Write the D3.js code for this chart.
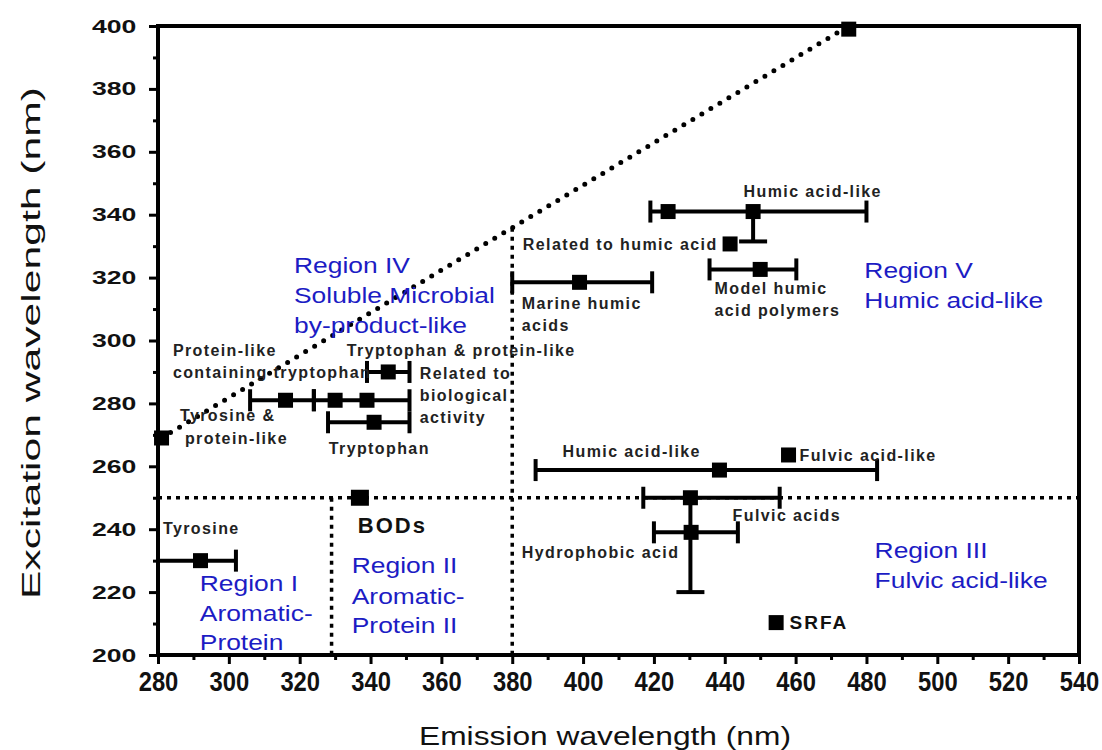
<!DOCTYPE html>
<html>
<head>
<meta charset="utf-8">
<script src="https://cdn.jsdelivr.net/npm/d3@7"></script>
<style>
  body { margin: 0; background: #fff; }
  text { font-family: "Liberation Sans", Arial, sans-serif; }
</style>
</head>
<body>
<script>
// Fluorescence peaks: emission / excitation wavelength (nm) and error ranges
var peakNames  = ["Tyrosine", "BODs", "Tryptophan & protein-like", "Protein-like containing tryptophan",
                  "Biological activity a", "Biological activity b", "Tryptophan", "Tyrosine & protein-like",
                  "Marine humic acids", "Humic acid-like a", "Humic acid-like b", "Related to humic acid",
                  "Model humic acid polymers", "Humic acid-like c", "Fulvic acid-like", "Fulvic acids",
                  "Hydrophobic acid", "SRFA", "Upper bound"];
var emission   = [292, 337, 345, 316, 330, 339, 341, 281, 399, 424, 448, 441.5, 450, 438.5, 458, 430.3, 430.5, 454.5, 475];
var excitation = [230, 250, 290, 281, 281, 281, 274, 269, 318.5, 341, 341, 330.7, 322.6, 258.8, 263.6, 250, 239, 210.3, 399];
var emLow      = [280, null, 339, 306, null, 324, 328, null, 380, null, 419, null, 435.7, 386.6, null, 417, 420, null, null];
var emHigh     = [302, null, 351, 324, null, 351, 351, null, 419.5, null, 480, null, 460.2, 483, null, 455.5, 443.7, null, null];
var exLow      = [null, null, null, null, null, null, null, null, null, null, 331.5, null, null, null, null, 220, null, null, null];

// Region boundaries
var diagEm = [281, 472], diagEx = [269, 398];
var splitEx = 250, splitEmA = 329, splitEmB = 380;

// Tick labels
var xTicks = [280, 300, 320, 340, 360, 380, 400, 420, 440, 460, 480, 500, 520, 540];
var yTicks = [200, 220, 240, 260, 280, 300, 320, 340, 360, 380, 400];

// Annotation text with anchor (emission, excitation)
var noteText = ["Humic acid-like", "Related to humic acid", "Model humic", "acid polymers", "Marine humic", "acids",
                "Tryptophan & protein-like", "Protein-like", "containing tryptophan", "Related to", "biological",
                "activity", "Tyrosine &", "protein-like", "Tryptophan", "Tyrosine", "Humic acid-like",
                "Fulvic acid-like", "Fulvic acids", "Hydrophobic acid"];
var noteEm = [445.3, 383, 437.1, 437.1, 382.7, 382.7, 333.3, 284.2, 284.2, 353.9, 353.9, 353.9, 286.2, 287.6, 328.2, 281.4, 394.2, 461.1, 442.2, 382.7];
var noteEx = [347.5, 330.7, 316.7, 309.7, 311.9, 304.9, 297, 297, 290, 289.7, 282.7, 275.7, 276.3, 269, 265.8, 240.4, 264.9, 263.6, 244.5, 232.8];

var regionText = ["Region IV", "Soluble Microbial", "by-product-like", "Region V", "Humic acid-like",
                  "Region III", "Fulvic acid-like", "Region I", "Aromatic-", "Protein",
                  "Region II", "Aromatic-", "Protein II"];
var regionEm = [318.4, 318.4, 318.4, 479.4, 479.4, 482.3, 482.3, 291.8, 291.8, 291.8, 334.7, 334.7, 334.7];
var regionEx = [324, 314.5, 304.9, 322.4, 312.9, 233.4, 223.8, 222.9, 213.4, 204.1, 228.6, 218.8, 209.5];

var margin = {top: 26, left: 158},
    width = 921,
    height = 629;

var svg = d3.select("body").append("svg")
    .attr("width", 1102)
    .attr("height", 750);

var g = svg.append("g")
    .attr("transform", "translate(" + margin.left + "," + margin.top + ")");

var x = d3.scaleLinear().domain([280, 540]).range([0, width]);
var y = d3.scaleLinear().domain([200, 400]).range([height, 0]);

// minor + major ticks
var minorX = d3.range(290, 540, 20), minorY = d3.range(210, 400, 20);

var xMinor = g.append("g").attr("transform", "translate(0," + height + ")")
    .call(d3.axisBottom(x).tickValues(minorX).tickSize(5).tickFormat(""));
var xMajor = g.append("g").attr("transform", "translate(0," + height + ")")
    .call(d3.axisBottom(x).tickValues(xTicks).tickSize(9).tickPadding(8).tickFormat(d3.format("d")));
var yMinor = g.append("g").call(d3.axisLeft(y).tickValues(minorY).tickSize(5).tickFormat(""));
var yMajor = g.append("g").call(d3.axisLeft(y).tickValues(yTicks).tickSize(9).tickPadding(9).tickFormat(d3.format("d")));

[xMinor, xMajor, yMinor, yMajor].forEach(function(a) {
    a.select(".domain").remove();
    a.selectAll("line").attr("stroke", "#000").attr("stroke-width", 3);
});

xMajor.selectAll(".tick text")
    .attr("fill", "#111")
    .style("font-size", "27px")
    .style("font-weight", "bold")
    .attr("transform", "scale(0.88,1)");

yMajor.selectAll(".tick text")
    .attr("fill", "#111")
    .style("font-size", "19px")
    .style("font-weight", "bold")
    .attr("transform", "translate(-9,0) scale(1.4,1) translate(9,0)");

// dotted region boundaries
var dotted = g.append("g")
    .attr("stroke", "#000")
    .attr("stroke-width", 3.5)
    .attr("stroke-dasharray", "4,5")
    .attr("fill", "none");

dotted.append("line")
    .attr("x1", x(280)).attr("x2", x(540))
    .attr("y1", y(splitEx)).attr("y2", y(splitEx));
dotted.append("line")
    .attr("x1", x(splitEmA)).attr("x2", x(splitEmA))
    .attr("y1", y(splitEx)).attr("y2", y(200));
var diagAt380 = diagEx[0] + (splitEmB - diagEm[0]) * (diagEx[1] - diagEx[0]) / (diagEm[1] - diagEm[0]);
dotted.append("line")
    .attr("x1", x(splitEmB)).attr("x2", x(splitEmB))
    .attr("y1", y(diagAt380)).attr("y2", y(200));

g.append("line")
    .attr("x1", x(diagEm[0])).attr("y1", y(diagEx[0]))
    .attr("x2", x(diagEm[1])).attr("y2", y(diagEx[1]))
    .attr("stroke", "#000")
    .attr("stroke-width", 5)
    .attr("stroke-linecap", "round")
    .attr("stroke-dasharray", "0,10.5");

// error bars
var peaks = peakNames.map(function(n, i) {
    return {name: n, em: emission[i], ex: excitation[i], lo: emLow[i], hi: emHigh[i], exLo: exLow[i]};
});

var bars = g.append("g").attr("stroke", "#000").attr("stroke-width", 4);
peaks.filter(function(d) { return d.lo !== null; }).forEach(function(d) {
    bars.append("line")
        .attr("x1", x(d.lo)).attr("x2", x(d.hi))
        .attr("y1", y(d.ex)).attr("y2", y(d.ex));
    [d.lo, d.hi].forEach(function(v) {
        bars.append("line")
            .attr("x1", x(v)).attr("x2", x(v))
            .attr("y1", y(d.ex) - 11).attr("y2", y(d.ex) + 11);
    });
});
peaks.filter(function(d) { return d.exLo !== null; }).forEach(function(d) {
    bars.append("line")
        .attr("x1", x(d.em)).attr("x2", x(d.em))
        .attr("y1", y(d.ex)).attr("y2", y(d.exLo));
    bars.append("line")
        .attr("x1", x(d.em) - 14).attr("x2", x(d.em) + 14)
        .attr("y1", y(d.exLo)).attr("y2", y(d.exLo));
});

// square markers
g.selectAll("rect.pt")
    .data(peaks)
    .enter()
    .append("rect")
    .attr("class", "pt")
    .attr("x", function(d) { return x(d.em) - (d.name === "BODs" ? 9 : 7.5); })
    .attr("y", function(d) { return y(d.ex) - (d.name === "BODs" ? 8 : 7.5); })
    .attr("width", function(d) { return d.name === "BODs" ? 18 : 15; })
    .attr("height", function(d) { return d.name === "BODs" ? 16 : 15; })
    .attr("fill", "#000");

// frame
g.append("rect")
    .attr("width", width)
    .attr("height", height)
    .attr("fill", "none")
    .attr("stroke", "#000")
    .attr("stroke-width", 4);

// annotations
g.selectAll("text.note")
    .data(noteText)
    .enter()
    .append("text")
    .attr("class", "note")
    .attr("x", function(d, i) { return x(noteEm[i]); })
    .attr("y", function(d, i) { return y(noteEx[i]); })
    .attr("dy", "0.36em")
    .attr("fill", "#222")
    .style("font-size", "16px")
    .style("font-weight", "bold")
    .style("letter-spacing", "1.4px")
    .text(function(d) { return d; });

g.append("text")
    .attr("x", x(336.4)).attr("y", y(241.3)).attr("dy", "0.36em")
    .attr("fill", "#111")
    .style("font-size", "22px").style("font-weight", "bold").style("letter-spacing", "2px")
    .text("BODs");
g.append("text")
    .attr("x", x(458.3)).attr("y", y(210.5)).attr("dy", "0.36em")
    .attr("fill", "#111")
    .style("font-size", "19px").style("font-weight", "bold").style("letter-spacing", "2px")
    .text("SRFA");

g.selectAll("text.region")
    .data(regionText)
    .enter()
    .append("text")
    .attr("class", "region")
    .attr("transform", function(d, i) {
        return "translate(" + x(regionEm[i]) + "," + y(regionEx[i]) + ") scale(1.2,1)";
    })
    .attr("dy", "0.36em")
    .attr("fill", "#1c1cc4")
    .style("font-size", "22px")
    .text(function(d) { return d; });

// axis titles
svg.append("text")
    .attr("x", 605).attr("y", 745)
    .attr("text-anchor", "middle")
    .attr("fill", "#111")
    .style("font-size", "26px")
    .attr("textLength", 372)
    .attr("lengthAdjust", "spacingAndGlyphs")
    .text("Emission wavelength (nm)");

svg.append("text")
    .attr("transform", "translate(40,343) rotate(-90)")
    .attr("text-anchor", "middle")
    .attr("fill", "#111")
    .style("font-size", "25px")
    .attr("textLength", 512)
    .attr("lengthAdjust", "spacingAndGlyphs")
    .text("Excitation wavelength (nm)");
</script>
</body>
</html>
